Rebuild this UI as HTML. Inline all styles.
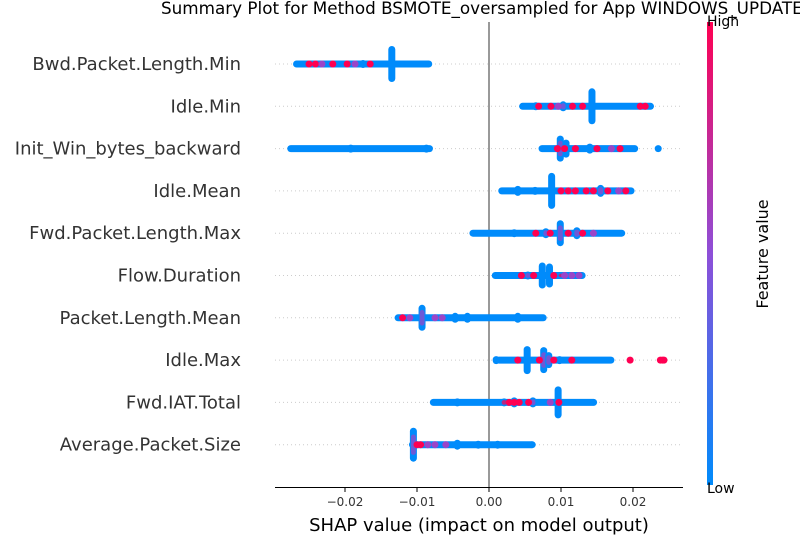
<!DOCTYPE html>
<html><head><meta charset="utf-8"><style>
body{margin:0;background:#fff;}
svg text{font-family:"DejaVu Sans","Liberation Sans",sans-serif;}
</style></head><body>
<svg width="800" height="550" xmlns="http://www.w3.org/2000/svg">
<defs><linearGradient id="cb" x1="0" y1="0" x2="0" y2="1"><stop offset="0" stop-color="#ff0052"/><stop offset="0.5" stop-color="#8e4fd8"/><stop offset="1" stop-color="#008bfb"/></linearGradient></defs>
<text x="161" y="14" font-size="16.8" text-anchor="start">Summary Plot for Method BSMOTE_oversampled for App WINDOWS_UPDATE</text>
<g id="grid"></g>
<line x1="489" y1="22" x2="489" y2="487" stroke="#999" stroke-width="2"/>
<g id="marks"></g>
<g id="labels"></g>
<line x1="275" y1="487.5" x2="683" y2="487.5" stroke="#000" stroke-width="1"/>
<g id="ticks"></g>
<text x="479" y="531" font-size="18" text-anchor="middle">SHAP value (impact on model output)</text>
<rect x="707" y="22" width="6" height="463" fill="url(#cb)"/>
<text x="707" y="26" font-size="14">High</text>
<text x="707" y="493" font-size="14">Low</text>
<text x="0" y="0" font-size="16" text-anchor="middle" transform="translate(768,254) rotate(-90)">Feature value</text>
</svg>
<script>
const features=["Bwd.Packet.Length.Min","Idle.Min","Init_Win_bytes_backward","Idle.Mean","Fwd.Packet.Length.Max","Flow.Duration","Packet.Length.Mean","Idle.Max","Fwd.IAT.Total","Average.Packet.Size"];
const ranges=[[[-0.0268,-0.0083]],[[0.0046,0.0225]],[[-0.0276,-0.0082],[0.0073,0.0203]],[[0.0017,0.0198]],[[-0.0023,0.0185]],[[0.0008,0.0130]],[[-0.0127,0.0076]],[[0.0013,0.0170]],[[-0.0078,0.0146]],[[-0.0107,0.0060]]];
// spikes: [value, half-height px, colour]
const spikes=[
[[-0.0135,18,"b"],[-0.0175,4,"b"],[-0.0122,3,"b"],[-0.0225,3,"b"]],
[[0.0143,18,"b"],[0.0065,4,"b"],[0.0103,5,"p"],[0.0162,3,"b"]],
[[-0.0192,4,"b"],[-0.0087,4,"b"],[0.0099,13,"p"],[0.0107,9,"b"],[0.0140,5,"b"],[-0.0235,3,"b"]],
[[0.0087,18,"b"],[0.0040,5,"b"],[0.0064,4,"b"],[0.0155,6,"p"]],
[[0.0099,13,"p"],[0.0035,4,"b"],[0.0054,3,"b"],[0.0079,5,"p"],[0.0122,6,"p"]],
[[0.0074,13,"b"],[0.0084,12,"b"],[0.0054,4,"p"],[0.0100,3,"r"]],
[[-0.0093,13,"p"],[-0.0047,5,"b"],[-0.0030,5,"b"],[0.0040,5,"b"],[-0.0120,3,"r"]],
[[0.0053,14,"b"],[0.0076,13,"p"],[0.0083,8,"p"],[0.0010,4,"b"],[0.0098,4,"b"],[0.0124,3,"b"]],
[[0.0096,16,"b"],[-0.0044,4,"b"],[0.0021,4,"r"],[0.0035,5,"r"],[0.0061,5,"p"]],
[[-0.0105,17,"p"],[-0.0044,5,"b"],[-0.0015,4,"b"],[0.0012,4,"b"],[-0.0085,3,"p"]]];
// coloured dots: [value, colour]
const dots=[
[[-0.0250,"r"],[-0.0241,"r"],[-0.0217,"r"],[-0.0197,"r"],[-0.0186,"p"],[-0.0165,"r"],[-0.0232,"p"]],
[[0.0069,"r"],[0.0086,"r"],[0.0116,"r"],[0.0130,"r"],[0.0210,"r"],[0.0217,"r"],[0.0096,"p"]],
[[0.0105,"r"],[0.0120,"r"],[0.0150,"r"],[0.0170,"p"],[0.0182,"r"],[0.0235,"b"],[0.0095,"r"]],
[[0.0100,"r"],[0.0110,"r"],[0.0120,"r"],[0.0135,"r"],[0.0145,"r"],[0.0165,"r"],[0.0180,"p"],[0.0190,"r"]],
[[0.0065,"r"],[0.0085,"r"],[0.0110,"r"],[0.0130,"r"],[0.0145,"p"]],
[[0.0045,"r"],[0.0062,"r"],[0.0090,"r"],[0.0105,"p"],[0.0115,"p"],[0.0125,"p"]],
[[-0.0120,"r"],[-0.0110,"p"],[-0.0075,"p"],[-0.0065,"p"]],
[[0.0040,"r"],[0.0070,"r"],[0.0090,"r"],[0.0115,"r"],[0.0196,"r"],[0.0238,"r"],[0.0241,"r"],[0.0243,"r"]],
[[0.0028,"r"],[0.0035,"r"],[0.0042,"r"],[0.0055,"r"],[0.0085,"p"],[0.0097,"r"]],
[[-0.0100,"r"],[-0.0095,"r"],[-0.0085,"p"],[-0.0075,"p"],[-0.0060,"p"],[0.0060,"b"]]];
const tickVals=[-0.02,-0.01,0,0.01,0.02];
const tickLabels=["\u22120.02","\u22120.01","0.00","0.01","0.02"];

const NS="http://www.w3.org/2000/svg";
const X=v=>489+v*7200;
const Y=i=>64+i*42.3;
const col={b:"#008bfb",r:"#ff0052",p:"#9a45c8"};
function mk(t,a,p){const e=document.createElementNS(NS,t);for(const k in a)e.setAttribute(k,a[k]);p.appendChild(e);return e;}
const grid=document.getElementById('grid'),marks=document.getElementById('marks'),labels=document.getElementById('labels'),ticks=document.getElementById('ticks');
features.forEach((f,i)=>{
  const y=Y(i);
  const g=mk('line',{x1:275,x2:683,y1:y,y2:y,stroke:"#ccc","stroke-width":1,"stroke-dasharray":"1,3"},grid);
  
  
  const t=mk('text',{x:241,y:y+6,"font-size":18,"text-anchor":"end",fill:"#333"},labels);
  t.textContent=f;
  
  
  const gr=mk('g',{},marks);
  
  
  ranges[i].forEach(r=>{
    const e=mk('rect',{x:X(r[0])-3,y:y-3.5,width:X(r[1])-X(r[0])+6,height:7,rx:3.5,fill:col.b},gr);
    
    
  });
  spikes[i].forEach(s=>{
    const e=mk('rect',{x:X(s[0])-3.5,y:y-s[1],width:7,height:2*s[1],rx:3.5,fill:col.b},gr);
    
    
    if(s[2]!=="b"){
      const c=mk('rect',{x:X(s[0])-2.5,y:y-s[1]*0.6,width:5,height:1.2*s[1],rx:2.5,fill:col[s[2]],opacity:0.7},gr);
      
      
    }
  });
  dots[i].forEach(d=>{
    const e=mk('circle',{cx:X(d[0]),cy:y,r:3.5,fill:col[d[1]]},gr);
    
    
  });
});
tickVals.forEach((v,k)=>{
  const l=mk('line',{x1:X(v),x2:X(v),y1:487,y2:492,stroke:"#000"},ticks);
  
  
  const t=mk('text',{x:X(v),y:506,"font-size":12,"text-anchor":"middle",fill:"#333"},ticks);
  t.textContent=tickLabels[k];
  
  
});
</script>
</body></html>
